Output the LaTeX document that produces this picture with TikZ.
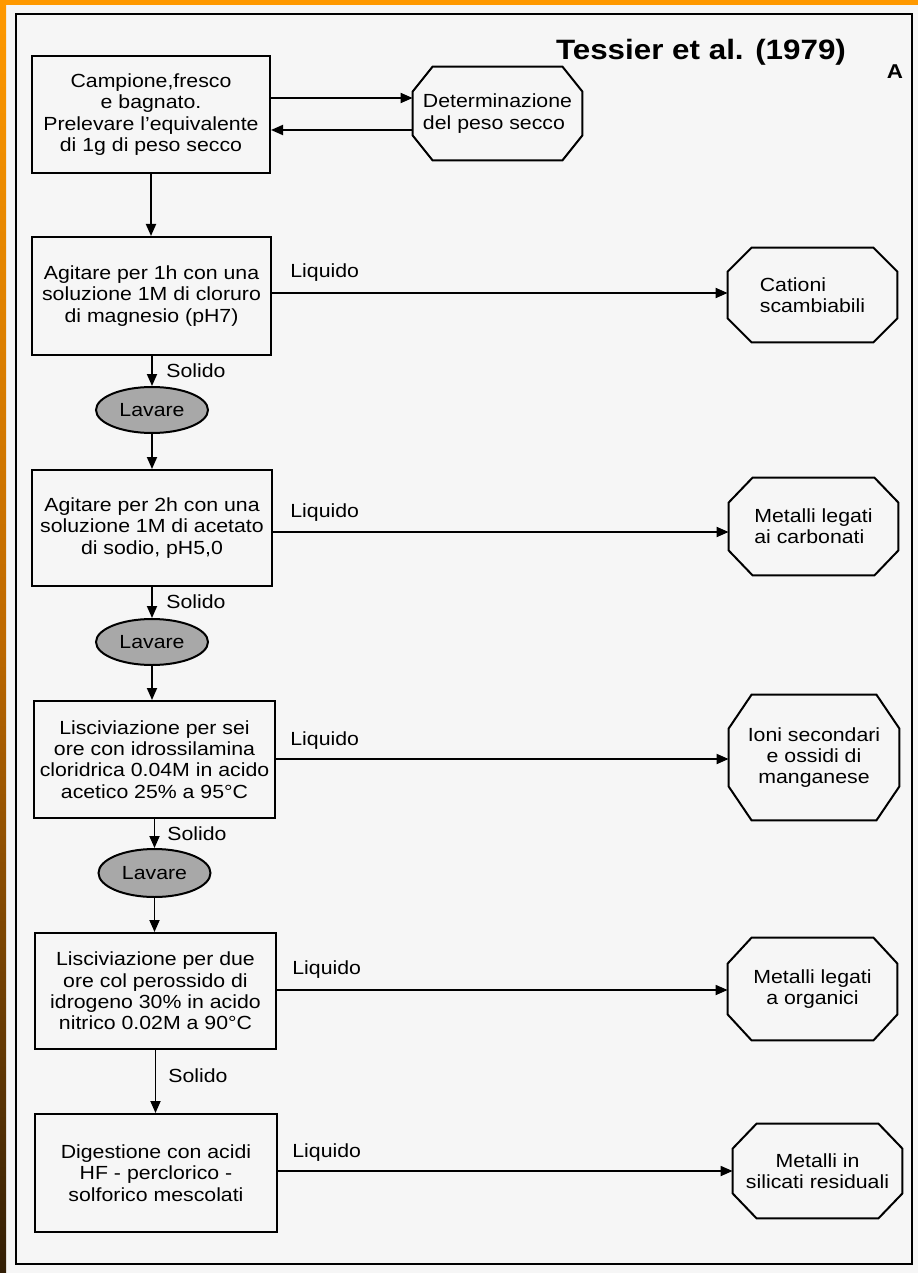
\documentclass[tikz,border=0pt]{standalone}
\usepackage{fontspec}
\setmainfont[FakeStretch=1.12]{Liberation Sans}
\usetikzlibrary{arrows.meta,shapes.geometric}
\definecolor{bg}{RGB}{246,246,246}
\definecolor{orng}{RGB}{255,153,0}
\definecolor{mbrown}{RGB}{190,105,0}
\definecolor{dbrown}{RGB}{50,30,5}
\definecolor{lav}{RGB}{168,168,168}
\newcommand{\txtfont}{\fontsize{9.5}{10.7}\selectfont}
\newcommand{\octoutline}[3]{%
  \draw[octline] ([xshift=#2]#1.north west) -- ([xshift=-#2]#1.north east)
    -- ([yshift=-#3]#1.north east) -- ([yshift=#3]#1.south east)
    -- ([xshift=-#2]#1.south east) -- ([xshift=#2]#1.south west)
    -- ([yshift=#3]#1.south west) -- ([yshift=-#3]#1.north west) -- cycle;}
\tikzset{
  box/.style={draw, line width=1pt, rectangle, align=center, font=\txtfont, inner sep=0pt},
  oct/.style={rectangle, font=\txtfont, inner sep=0pt, minimum width=84.5pt},
  octline/.style={line width=1pt, line join=miter},
  wash/.style={draw, ellipse, fill=lav, line width=1pt, minimum width=56pt,
    minimum height=23pt, inner sep=0pt, font=\txtfont},
  arr/.style={-{Triangle[length=6pt,width=5pt]}, line width=0.9pt},
  lbl/.style={font=\txtfont, inner sep=0pt, anchor=west}
}
\begin{document}
\begin{tikzpicture}[x=0.5pt,y=-0.5pt]
\useasboundingbox (0,0) rectangle (918,1273);
% background
\fill[bg] (0,0) rectangle (918,1273);
\fill[orng] (0,0) rectangle (918,5);
\shade[top color=orng, bottom color=dbrown, middle color=mbrown] (0,0) rectangle (6,1273);
% frame
\draw[line width=1pt] (16,14) rectangle (912,1264);
% title
\node[font=\bfseries\fontsize{14}{16}\selectfont, inner sep=0pt] (title) at (701,52) {Tessier et al. (1979)};
\node[font=\bfseries\fontsize{10}{12}\selectfont, inner sep=0pt] (A) at (895,72) {A};
% left column
\node[box, minimum width=119pt, minimum height=58.5pt] (b1) at (151,114.5)
  {Campione,fresco\\e bagnato.\\Prelevare l’equivalente\\di 1g di peso secco};
\node[box, minimum width=119.5pt, minimum height=59pt] (b2) at (151.5,296)
  {Agitare per 1h con una\\soluzione 1M di cloruro\\di magnesio (pH7)};
\node[wash] (e1) at (152,410) {Lavare};
\node[box, minimum width=120pt, minimum height=58pt] (b3) at (152,528)
  {Agitare per 2h con una\\soluzione 1M di acetato\\di sodio, pH5,0};
\node[wash] (e2) at (152,642) {Lavare};
\node[box, minimum width=120.5pt, minimum height=58.5pt] (b4) at (154.5,759.5)
  {Lisciviazione per sei\\ore con idrossilamina\\cloridrica 0.04M in acido\\acetico 25\% a 95°C};
\node[wash, minimum height=24pt] (e3) at (154.5,873) {Lavare};
\node[box, minimum width=120.5pt, minimum height=58pt] (b5) at (155.5,991)
  {Lisciviazione per due\\ore col perossido di\\idrogeno 30\% in acido\\nitrico 0.02M a 90°C};
\node[box, minimum width=121pt, minimum height=59pt] (b6) at (156,1173)
  {Digestione con acidi\\HF - perclorico -\\solforico mescolati};
% right column
\node[oct, align=left, minimum height=46.5pt] (o1) at (497.5,113.5)
  {Determinazione\\del peso secco};
\node[oct, align=left, minimum height=47pt] (o2) at (812.5,295) {Cationi\\scambiabili};
\node[oct, align=left, minimum height=48.5pt] (o3) at (813.5,526.5) {Metalli legati\\ai carbonati};
\node[oct, align=center, minimum height=62.5pt, minimum width=85pt] (o4) at (814,757.5) {Ioni secondari\\e ossidi di\\manganese};
\node[oct, align=center, minimum height=51pt] (o5) at (812.5,989) {Metalli legati\\a organici};
\node[oct, align=center, minimum height=47pt] (o6) at (817.5,1171) {Metalli in\\silicati residuali};
\octoutline{o1}{10pt}{12.5pt}
\octoutline{o2}{12pt}{12pt}
\octoutline{o3}{12pt}{12.5pt}
\octoutline{o4}{11.5pt}{17pt}
\octoutline{o5}{12pt}{13pt}
\octoutline{o6}{12pt}{12.5pt}
% level coordinates
\coordinate (h1a) at (0,98);
\coordinate (h1b) at (0,130);
\coordinate (h2) at (0,293);
\coordinate (h3) at (0,532);
\coordinate (h4) at (0,759);
\coordinate (h5) at (0,990);
\coordinate (h6) at (0,1171);
% top connectors
\draw[arr] (b1.east |- h1a) -- (o1.west |- h1a);
\draw[arr] (o1.west |- h1b) -- (b1.east |- h1b);
% vertical connectors
\draw[arr] (b1.south) -- (b1.south |- b2.north);
\draw[arr] (b2.south -| e1.north) -- (e1.north);
\draw[arr] (e1.south) -- (e1.south |- b3.north);
\draw[arr] (b3.south -| e2.north) -- (e2.north);
\draw[arr] (e2.south) -- (e2.south |- b4.north);
\draw[arr] (b4.south -| e3.north) -- (e3.north);
\draw[arr] (e3.south) -- (e3.south |- b5.north);
\draw[arr] (b5.south) -- (b5.south |- b6.north);
% liquid connectors
\draw[arr] (b2.east |- h2) -- (o2.west |- h2);
\draw[arr] (b3.east |- h3) -- (o3.west |- h3);
\draw[arr] (b4.east |- h4) -- (o4.west |- h4);
\draw[arr] (b5.east |- h5) -- (o5.west |- h5);
\draw[arr] (b6.east |- h6) -- (o6.west |- h6);
% labels
\node[lbl] (l2) at (290,273) {Liquido};
\node[lbl] (l3) at (290,513) {Liquido};
\node[lbl] (l4) at (290,741) {Liquido};
\node[lbl] (l5) at (292,970) {Liquido};
\node[lbl] (l6) at (292,1153) {Liquido};
\node[lbl] (s2) at (166,371) {Solido};
\node[lbl] (s3) at (166,602) {Solido};
\node[lbl] (s4) at (167,834) {Solido};
\node[lbl] (s5) at (168,1076) {Solido};
\end{tikzpicture}
\end{document}
